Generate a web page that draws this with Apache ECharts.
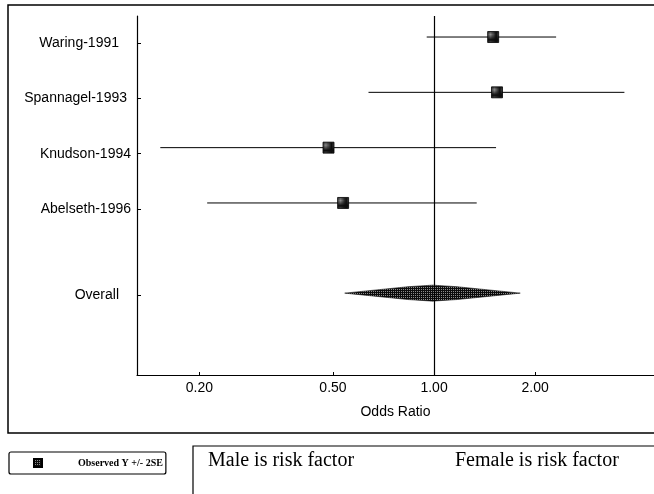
<!DOCTYPE html>
<html>
<head>
<meta charset="utf-8">
<script src="https://cdn.jsdelivr.net/npm/echarts@6/dist/echarts.min.js"></script>
<style>
  html, body { margin: 0; padding: 0; background: #fff; }
  #chart { width: 654px; height: 494px; }
</style>
</head>
<body>
<div id="chart"></div>
<script>
// Study-level odds ratios with their +/- 2SE limits
const studies   = ['Waring-1991', 'Spannagel-1993', 'Knudson-1994', 'Abelseth-1996'];
const oddsRatio = [1.50, 1.54, 0.485, 0.536];
const lowerCI   = [0.951, 0.638, 0.153, 0.211];
const upperCI   = [2.31, 3.69, 1.53, 1.34];

// Pooled estimate
const overallLabel = 'Overall';
const overallOR    = 0.99;
const overallLower = 0.542;
const overallUpper = 1.806;

// Axis ticks and captions
const xTicks     = [0.2, 0.5, 1, 2];
const xAxisName  = 'Odds Ratio';
const legendText = 'Observed Y +/- 2SE';
const leftNote   = 'Male is risk factor';
const rightNote  = 'Female is risk factor';

// Row layout: one row per study, the pooled row sits a bit lower
const rowPos = studies.map((_, i) => i + 1);
const overallPos = studies.length + 1.63;
const labelNames = studies.concat([overallLabel]);
const labelPos = rowPos.map(p => p + 0.11).concat([overallPos + 0.04]);
const labelPad = [12, 4, 0, 0, 12];

// Checkered dark fill used for the squares and the diamond
function makePattern() {
  const c = document.createElement('canvas');
  c.width = 2; c.height = 2;
  const g = c.getContext('2d');
  g.fillStyle = '#0c0c0c';
  g.fillRect(0, 0, 2, 2);
  g.fillStyle = '#8c8c8c';
  g.fillRect(1, 1, 1, 1);
  return { image: c, repeat: 'repeat' };
}
const fillPattern = makePattern();

const rich = {};
labelPad.forEach((p, i) => {
  rich['r' + i] = { fontFamily: 'Liberation Sans', fontSize: 14, color: '#000', padding: [0, p, 0, 0] };
});

function labelFor(v) {
  let best = 0;
  labelPos.forEach((p, i) => { if (Math.abs(p - v) < Math.abs(labelPos[best] - v)) best = i; });
  return '{r' + best + '|' + labelNames[best] + '}';
}

const chart = echarts.init(document.getElementById('chart'), null, { renderer: 'canvas' });

chart.setOption({
  animation: false,
  backgroundColor: '#fff',
  textStyle: { fontFamily: 'Liberation Sans', color: '#000' },
  grid: { left: 137, right: 0, top: 16, bottom: 119, containLabel: false },
  xAxis: {
    type: 'log',
    logBase: 10,
    min: 0.1304,
    max: 4.52,
    name: xAxisName,
    nameLocation: 'middle',
    nameGap: 30,
    nameTextStyle: { fontFamily: 'Liberation Sans', fontSize: 14, color: '#000' },
    axisLine: { show: true, lineStyle: { color: '#000', width: 1.2 } },
    axisTick: { show: true, inside: true, length: 3, customValues: xTicks, lineStyle: { color: '#000' } },
    axisLabel: {
      customValues: xTicks,
      formatter: v => Number(v).toFixed(2),
      fontFamily: 'Liberation Sans', fontSize: 14, color: '#000', margin: 6
    },
    splitLine: { show: false },
    minorTick: { show: false }
  },
  yAxis: {
    type: 'value',
    inverse: true,
    min: 0.62,
    max: 7.11,
    axisLine: { show: true, lineStyle: { color: '#000', width: 1.2 } },
    axisTick: { show: true, inside: true, length: 4, customValues: labelPos, lineStyle: { color: '#000' } },
    axisLabel: { customValues: labelPos, formatter: labelFor, margin: 6, rich: rich },
    splitLine: { show: false }
  },
  legend: {
    left: 9,
    top: 452,
    orient: 'horizontal',
    padding: [6, 3, 6, 24],
    borderColor: '#000',
    borderWidth: 1.2,
    borderRadius: 2,
    itemWidth: 8,
    itemHeight: 8,
    data: [{ name: legendText, icon: 'rect' }],
    formatter: n => '{t|' + n + '}',
    textStyle: {
      rich: {
        t: { fontFamily: 'Liberation Serif', fontSize: 10, fontWeight: 'bold', color: '#000', padding: [0, 0, 0, 31] }
      }
    }
  },
  graphic: [
    { type: 'rect', silent: true, shape: { x: 8, y: 5, width: 700, height: 428 },
      style: { fill: 'none', stroke: '#000', lineWidth: 1.5 } },
    { type: 'rect', silent: true, shape: { x: 193, y: 446, width: 520, height: 100 },
      style: { fill: 'none', stroke: '#000', lineWidth: 1.2 } },
    { type: 'text', silent: true, x: 208, y: 461,
      style: { text: leftNote, font: '20px "Liberation Serif"', fill: '#000', verticalAlign: 'middle' } },
    { type: 'text', silent: true, x: 455, y: 461,
      style: { text: rightNote, font: '20px "Liberation Serif"', fill: '#000', verticalAlign: 'middle' } }
  ],
  series: [
    {
      // +/- 2SE horizontal limits for each study
      type: 'custom',
      name: 'limits',
      data: studies.map((_, i) => [lowerCI[i], upperCI[i], rowPos[i]]),
      encode: { x: [0, 1], y: 2 },
      renderItem: (params, api) => {
        const a = api.coord([api.value(0), api.value(2)]);
        const b = api.coord([api.value(1), api.value(2)]);
        return { type: 'line', shape: { x1: a[0], y1: a[1], x2: b[0], y2: b[1] },
                 style: { stroke: '#000', lineWidth: 1 } };
      },
      markLine: {
        silent: true,
        symbol: 'none',
        label: { show: false },
        lineStyle: { color: '#000', width: 1.2, type: 'solid' },
        data: [{ xAxis: 1 }]
      },
      z: 2
    },
    {
      // Pooled estimate drawn as a spindle-shaped diamond spanning its limits
      type: 'custom',
      name: 'overall',
      data: [[overallLower, overallOR, overallUpper, overallPos]],
      encode: { x: [0, 1, 2], y: 3 },
      renderItem: (params, api) => {
        const y = api.value(3);
        const l = api.coord([api.value(0), y]);
        const c = api.coord([api.value(1), y]);
        const r = api.coord([api.value(2), y]);
        const h = 8;
        const lm = l[0] + (c[0] - l[0]) * 0.72;
        const rm = r[0] - (r[0] - c[0]) * 0.72;
        return { type: 'polygon',
                 shape: { points: [
                   [l[0], l[1]], [lm, c[1] - h * 0.8], [c[0], c[1] - h], [rm, c[1] - h * 0.8],
                   [r[0], r[1]], [rm, c[1] + h * 0.8], [c[0], c[1] + h], [lm, c[1] + h * 0.8]
                 ] },
                 style: { fill: fillPattern, stroke: '#111', lineWidth: 0.6 } };
      },
      z: 3
    },
    {
      type: 'scatter',
      name: legendText,
      symbol: 'rect',
      symbolSize: 11,
      data: studies.map((_, i) => [oddsRatio[i], rowPos[i]]),
      itemStyle: { color: fillPattern, borderColor: '#000', borderWidth: 0.8, opacity: 1 },
      z: 4
    }
  ]
});
</script>
</body>
</html>
